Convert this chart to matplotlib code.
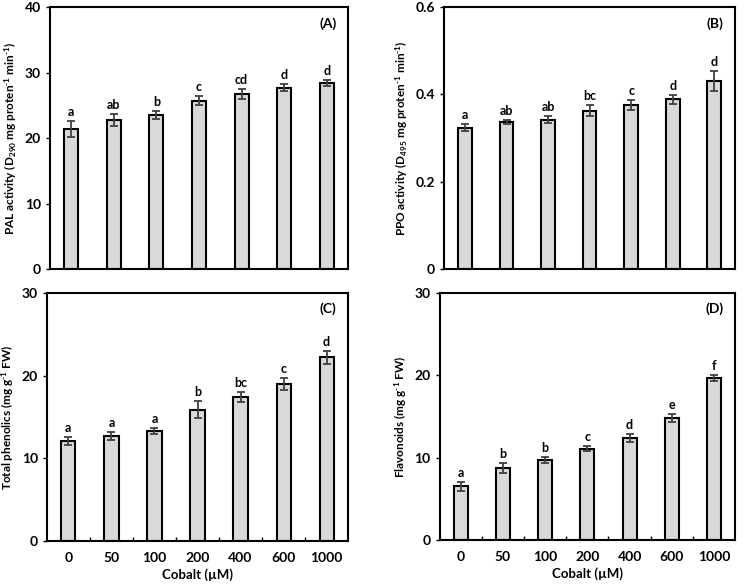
import numpy as np
import matplotlib.pyplot as plt

plt.rcParams['font.family'] = ['Lato', 'DejaVu Sans']
plt.rcParams['font.weight'] = 'bold'
plt.rcParams['mathtext.fontset'] = 'custom'
plt.rcParams['mathtext.rm'] = 'Lato:bold'
plt.rcParams['mathtext.it'] = 'Lato:bold'
plt.rcParams['mathtext.bf'] = 'Lato:bold'

# Data
cobalt = ['0', '50', '100', '200', '400', '600', '1000']

pal = [21.4, 22.8, 23.5, 25.7, 26.7, 27.7, 28.4]
pal_err = [1.2, 0.9, 0.6, 0.7, 0.8, 0.5, 0.5]
pal_let = ['a', 'ab', 'b', 'c', 'cd', 'd', 'd']

ppo = [0.323, 0.337, 0.342, 0.363, 0.375, 0.389, 0.430]
ppo_err = [0.008, 0.005, 0.008, 0.013, 0.011, 0.010, 0.023]
ppo_let = ['a', 'ab', 'ab', 'bc', 'c', 'd', 'd']

phen = [12.1, 12.7, 13.3, 15.9, 17.4, 19.0, 22.2]
phen_err = [0.5, 0.5, 0.4, 1.0, 0.6, 0.7, 0.8]
phen_let = ['a', 'a', 'a', 'b', 'bc', 'c', 'd']

flav = [6.5, 8.8, 9.7, 11.1, 12.4, 14.8, 19.7]
flav_err = [0.5, 0.6, 0.4, 0.3, 0.5, 0.5, 0.4]
flav_let = ['a', 'b', 'b', 'c', 'd', 'e', 'f']

panels = [
    dict(vals=pal, err=pal_err, let=pal_let, ymax=40, ticks=[0, 10, 20, 30, 40],
         tl=['0', '10', '20', '30', '40'], tag='(A)',
         ylabel=r'PAL activity (D$_{290}$ mg proten$^{\text{-1}}$ min$^{\text{-1}}$)',
         pos=[0.067, 0.5425, 0.401, 0.4455], xlab=False),
    dict(vals=ppo, err=ppo_err, let=ppo_let, ymax=0.6, ticks=[0, 0.2, 0.4, 0.6],
         tl=['0', '0.2', '0.4', '0.6'], tag='(B)',
         ylabel=r'PPO activity (D$_{495}$ mg proten$^{\text{-1}}$ min$^{\text{-1}}$)',
         pos=[0.597, 0.5425, 0.391, 0.4455], xlab=False),
    dict(vals=phen, err=phen_err, let=phen_let, ymax=30, ticks=[0, 10, 20, 30],
         tl=['0', '10', '20', '30'], tag='(C)',
         ylabel=r'Total phenolics (mg g$^{\text{-1}}$ FW)',
         pos=[0.063, 0.080, 0.405, 0.4217], xlab=True),
    dict(vals=flav, err=flav_err, let=flav_let, ymax=30, ticks=[0, 10, 20, 30],
         tl=['0', '10', '20', '30'], tag='(D)',
         ylabel=r'Flavonoids (mg g$^{\text{-1}}$ FW)',
         pos=[0.591, 0.0816, 0.397, 0.4201], xlab=True),
]

fig = plt.figure(figsize=(7.44, 5.88), dpi=100)
x = np.arange(len(cobalt))

for p in panels:
    ax = fig.add_axes(p['pos'])
    ax.bar(x, p['vals'], width=0.33, color='#d9d9d9', edgecolor='black', linewidth=1.5)
    ax.errorbar(x, p['vals'], yerr=p['err'], fmt='none', ecolor='#404040',
                elinewidth=1.3, capsize=3, capthick=1.3)
    off = p['ymax'] * 0.012
    for xi, v, e, t in zip(x, p['vals'], p['err'], p['let']):
        ax.text(xi, v + e + off, t, ha='center', va='bottom', fontsize=9, fontweight='bold')
    ax.set_xlim(-0.5, len(cobalt) - 0.5)
    ax.set_ylim(0, p['ymax'])
    ax.set_yticks(p['ticks'])
    ax.set_yticklabels(p['tl'], fontsize=10, fontweight='bold')
    ax.tick_params(axis='y', direction='out', length=3, width=1)
    ax.set_xticks(x)
    if p['xlab']:
        ax.set_xticklabels(cobalt, fontsize=10, fontweight='bold')
        ax.set_xticks(np.arange(len(cobalt) - 1) + 0.5, minor=True)
        ax.tick_params(axis='x', which='minor', direction='in', length=3, width=1)
        ax.set_xlabel('Cobalt (µM)', fontsize=9.5, fontweight='bold', labelpad=3)
    else:
        ax.set_xticklabels([])
    ax.tick_params(axis='x', which='major', length=0, pad=8)
    ax.set_ylabel(p['ylabel'], fontsize=8.5, fontweight='bold', labelpad=4)
    for s in ax.spines.values():
        s.set_linewidth(1.5)
    ax.text(0.96, 0.935, p['tag'], transform=ax.transAxes, ha='right', va='center',
            fontsize=10, fontweight='bold')

fig.savefig('out.png', dpi=100)
